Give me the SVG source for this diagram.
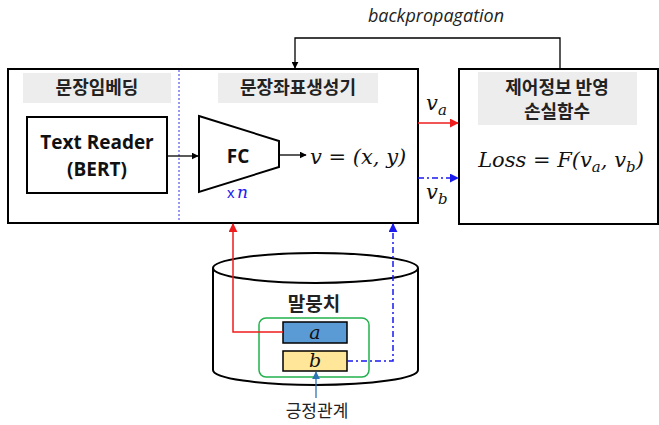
<svg xmlns="http://www.w3.org/2000/svg" width="659" height="425" viewBox="0 0 659 425">
  <defs>
    <style>
      .box { fill: #ffffff; stroke: #000000; stroke-width: 2; }
      .lbl { fill: #ededed; }
      .ko { font-family: "Noto Sans CJK KR", "Noto Sans", sans-serif; fill: #222222; }
      .kob { font-family: "Noto Sans CJK KR", "Noto Sans", sans-serif; font-weight: bold; fill: #222222; }
      .en { font-family: "Open Sans", "Liberation Sans", sans-serif; font-weight: bold; fill: #111111; }
      .math { font-family: "DejaVu Serif", "Liberation Serif", serif; font-style: italic; fill: #111111; }
      .wire { fill: none; stroke: #000000; stroke-width: 1.3; }
      .red { fill: none; stroke: #ee1c1c; stroke-width: 1.5; }
      .blue { fill: none; stroke: #1a1aee; stroke-width: 1.5; stroke-dasharray: 6 3 2 3; }
    </style>
    <marker id="ahK" viewBox="0 0 10 10" refX="9" refY="5" markerWidth="7" markerHeight="7" orient="auto" markerUnits="userSpaceOnUse">
      <path d="M0,0 L10,5 L0,10 z" fill="#000000"/>
    </marker>
    <marker id="ahR" viewBox="0 0 10 10" refX="9" refY="5" markerWidth="9" markerHeight="9" orient="auto" markerUnits="userSpaceOnUse">
      <path d="M0,0 L10,5 L0,10 z" fill="#ee1c1c"/>
    </marker>
    <marker id="ahB" viewBox="0 0 10 10" refX="9" refY="5" markerWidth="9" markerHeight="9" orient="auto" markerUnits="userSpaceOnUse">
      <path d="M0,0 L10,5 L0,10 z" fill="#1a1aee"/>
    </marker>
    <marker id="ahS" viewBox="0 0 10 10" refX="9" refY="5" markerWidth="8" markerHeight="8" orient="auto" markerUnits="userSpaceOnUse">
      <path d="M0,0 L10,5 L0,10 z" fill="#2e75b6"/>
    </marker>
  </defs>

  <rect width="659" height="425" fill="#ffffff"/>

  <!-- encoder block: embedding + coordinate generator -->
  <g id="encoder">
    <rect class="box" x="8" y="69" width="410" height="154"/>
    <rect class="lbl" x="23" y="73" width="148" height="30"/>
    <text class="kob" x="97" y="94" font-size="18" text-anchor="middle">문장임베딩</text>
    <rect class="lbl" x="218" y="73" width="160" height="30"/>
    <text class="kob" x="298" y="94" font-size="18" text-anchor="middle">문장좌표생성기</text>
    <line x1="179" y1="70" x2="179" y2="222" stroke="#3030ee" stroke-width="1" stroke-dasharray="2 2"/>
  </g>

  <g id="text-reader">
    <rect class="box" x="27" y="117" width="140" height="76"/>
    <text class="en" x="97" y="149" font-size="19" text-anchor="middle">Text Reader</text>
    <text class="en" x="97" y="176" font-size="19" text-anchor="middle">(BERT)</text>
  </g>

  <g id="fc">
    <path class="box" d="M199,116 L279,141 L279,167 L199,192 Z"/>
    <text class="en" x="238" y="163" font-size="19" text-anchor="middle">FC</text>
    <text x="227" y="198" font-size="15" fill="#2020ee" font-family="Liberation Sans, sans-serif">x</text>
    <text class="math" x="237" y="198" font-size="17" style="fill:#2020ee">n</text>
  </g>

  <text id="v-out" class="math" x="310" y="164" font-size="21">v = (x, y)</text>

  <!-- loss block -->
  <g id="loss">
    <rect class="box" x="459" y="69" width="199" height="155"/>
    <rect class="lbl" x="478" y="72" width="159" height="53"/>
    <text class="kob" x="557" y="94" font-size="18" text-anchor="middle">제어정보 반영</text>
    <text class="kob" x="557" y="118" font-size="18" text-anchor="middle">손실함수</text>
    <text class="math" x="561" y="167" font-size="21" text-anchor="middle">Loss = F(v<tspan font-size="15" dy="5">a</tspan><tspan dy="-5">, v</tspan><tspan font-size="15" dy="5">b</tspan><tspan dy="-5">)</tspan></text>
  </g>

  <!-- corpus cylinder -->
  <g id="corpus">
    <path d="M213,268 L213,370 A102.5,15 0 0 0 418,370 L418,268" fill="#ffffff" stroke="#000000" stroke-width="2"/>
    <ellipse cx="315.5" cy="268" rx="102.5" ry="15" fill="#ffffff" stroke="#000000" stroke-width="2"/>
    <text class="kob" x="314" y="311" font-size="19" text-anchor="middle">말뭉치</text>
    <rect x="259" y="318" width="110" height="59" rx="7" fill="none" stroke="#22b14c" stroke-width="1.5"/>
  </g>

  <g id="sent-a">
    <rect x="283" y="322" width="64" height="21" fill="#5b9bd5" stroke="#000000" stroke-width="1.5"/>
    <text class="math" x="315" y="339" font-size="19" text-anchor="middle">a</text>
  </g>

  <g id="sent-b">
    <rect x="283" y="351" width="64" height="20" fill="#ffe699" stroke="#000000" stroke-width="1.5"/>
    <text class="math" x="315" y="367" font-size="19" text-anchor="middle">b</text>
  </g>

  <text id="positive" class="ko" x="317" y="417" font-size="17" text-anchor="middle">긍정관계</text>

  <text id="backprop" x="436" y="22" font-size="18" font-style="italic" text-anchor="middle" font-family="Open Sans, Liberation Sans, sans-serif" fill="#222222">backpropagation</text>

  <!-- connectors -->
  <g id="connectors">
    <path class="wire" d="M560,69 L560,38 L295,38 L295,68" marker-end="url(#ahK)"/>
    <path class="wire" d="M167,156 L198,156" marker-end="url(#ahK)"/>
    <path class="wire" d="M279,155 L306,155" marker-end="url(#ahK)"/>
    <path class="red" d="M418,123 L458,123" marker-end="url(#ahR)"/>
    <path class="blue" d="M418,178 L458,178" marker-end="url(#ahB)"/>
    <path class="red" d="M283,332 L233,332 L233,224" marker-end="url(#ahR)"/>
    <path class="blue" d="M347,361 L393,361 L393,224" marker-end="url(#ahB)"/>
    <path d="M316,398 L316,372" fill="none" stroke="#2e75b6" stroke-width="1.3" marker-end="url(#ahS)"/>
  </g>

  <text class="math" x="426" y="110" font-size="21">v<tspan font-size="15" dy="5">a</tspan></text>
  <text class="math" x="426" y="199" font-size="21">v<tspan font-size="15" dy="5">b</tspan></text>
</svg>
